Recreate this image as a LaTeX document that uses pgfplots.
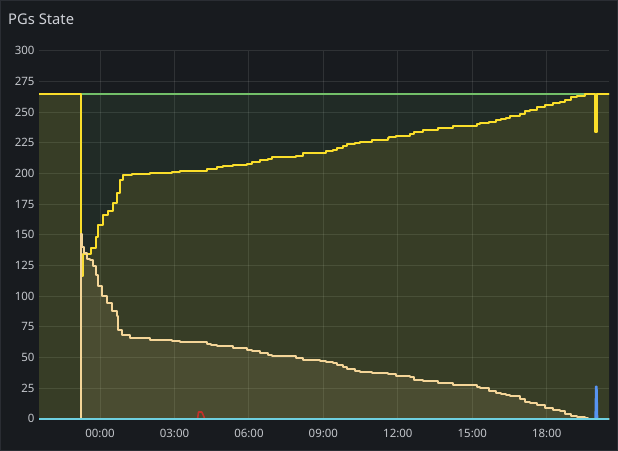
\documentclass[border=0pt]{standalone}
\usepackage{pgfplots}
\pgfplotsset{compat=1.18}
\usepackage{fontspec}
\setmainfont{Noto Sans}

\definecolor{bg}{HTML}{181B1F}
\definecolor{panelline}{HTML}{2A2D33}
\definecolor{titlec}{HTML}{D0D2D8}
\definecolor{tickc}{HTML}{C4C7CC}
\definecolor{gGreen}{HTML}{73BF69}
\definecolor{gYellow}{HTML}{FADE2A}
\definecolor{gCream}{HTML}{F4D598}
\definecolor{gCyan}{HTML}{6ED0E0}
\definecolor{gBlue}{HTML}{5794F2}
\definecolor{gRed}{HTML}{C4302B}

\begin{document}
\begin{tikzpicture}
\fill[bg] (0,0) rectangle (618bp,451bp);
\draw[panelline, line width=1bp] (0.5bp,0.5bp) rectangle (617.5bp,450.5bp);
\node[anchor=base west, text=titlec, font=\fontsize{14.8}{17}\selectfont, inner sep=0pt] at (8bp,426bp) {PGs State};

\begin{axis}[
    at={(39bp,31bp)}, anchor=south west,
    scale only axis,
    width=570bp, height=369.2bp,
    xmin=-2.458, xmax=20.508,
    ymin=-1, ymax=300,
    xtick={0,3,6,9,12,15,18},
    xticklabels={00:00,03:00,06:00,09:00,12:00,15:00,18:00},
    ytick={0,25,...,300},
    grid=major,
    grid style={draw=white, draw opacity=0.1, line width=1bp},
    axis line style={draw=none},
    major tick length=0pt,
    tick label style={text=tickc, font=\fontsize{11.5}{13}\selectfont},
    xticklabel style={yshift=-6bp},
    yticklabel style={xshift=-1bp},
    /pgf/number format/assume math mode=true,
    line join=round,
]
% total (green)
\addplot[gGreen, line width=2bp, fill=gGreen, fill opacity=0.1] coordinates {
    (-3,265) (21,265)
} \closedcycle;

% active+clean (yellow)
\addplot[const plot, gYellow, line width=2bp, fill=gYellow, fill opacity=0.1] coordinates {
    (-3,265) (-0.766,116) (-0.673,134) (-0.363,139) (-0.173,148.6) (-0.068,158)
    (0.133,166) (0.334,169) (0.536,176) (0.673,184) (0.806,195) (0.939,198.4)
    (1.277,199.5) (2.015,200.3) (2.889,201) (3.223,202) (4.299,203.3) (4.472,204)
    (4.714,205) (4.956,205.7) (5.359,207) (5.923,208) (6.124,209) (6.446,211)
    (6.769,212) (6.930,213.3) (7.897,214.4) (8.179,216.6) (8.864,217) (9.106,218)
    (9.388,219) (9.549,220.6) (9.790,222.5) (9.952,224) (10.274,225) (10.475,226)
    (10.959,227) (11.604,228.5) (11.645,229.6) (11.926,230.7) (12.490,232)
    (12.651,233.7) (13.014,235.3) (13.618,237) (14.222,238.3) (15.189,240)
    (15.310,241) (15.673,242) (15.955,243.7) (16.156,244.5) (16.358,245.6)
    (16.519,247) (16.922,248.6) (17.123,250.8) (17.325,252) (17.607,253.8)
    (17.929,256) (18.251,257.3) (18.533,258.4) (18.735,260) (18.977,262)
    (19.218,263) (19.541,264.4) (19.662,265) (19.944,234) (20.024,265) (21,265)
} \closedcycle;

% degraded / remapped (cream)
\addplot[const plot, gCream, line width=2bp, fill=gCream, fill opacity=0.1] coordinates {
    (-3,0) (-0.766,151) (-0.713,140) (-0.633,135) (-0.536,130.4) (-0.403,129.6)
    (-0.270,124.7) (-0.173,117.4) (-0.068,107.9) (0.068,99.7) (0.270,94.3)
    (0.471,87.5) (0.673,83.4) (0.737,72.6) (0.874,68.5) (1.209,65.8) (2.015,64.4)
    (2.889,63.6) (3.223,62.2) (4.299,61) (4.472,60.3) (4.714,59.5) (5.359,57.3)
    (5.923,56.2) (6.124,55.4) (6.446,53.5) (6.769,52.4) (6.930,51.4) (7.897,49.7)
    (8.179,47.8) (8.864,47.5) (9.106,46.5) (9.388,45.4) (9.549,43.5) (9.790,42.1)
    (9.952,40.2) (10.274,39.1) (10.475,38.3) (10.959,37.7) (11.604,36.1)
    (11.926,35) (12.490,33.7) (12.651,32) (13.014,30.4) (13.618,28.8)
    (14.222,27.2) (15.189,26) (15.310,24.8) (15.673,22.3) (15.955,20.9)
    (16.156,20.4) (16.358,19.6) (16.519,18.2) (16.922,16) (17.123,13.9)
    (17.325,12.7) (17.607,11.4) (17.929,8.4) (18.251,7.3) (18.533,6)
    (18.735,3.8) (18.977,2.4) (19.218,1.1) (19.541,0.4) (19.662,0) (21,0)
} \closedcycle;

% scrubbing (red)
\addplot[gRed, line width=1.6bp] coordinates {
    (3.93,0) (3.97,5.5) (4.10,5.5) (4.16,3) (4.22,0)
};

% peering (blue)
\addplot[gBlue, line width=1.6bp, fill=gBlue] coordinates {
    (19.95,0) (19.975,26.3) (20.02,26.3) (20.045,0)
};

% zero line (cyan)
\addplot[gCyan, line width=2bp] coordinates {
    (-3,0) (21,0)
};
\end{axis}
\end{tikzpicture}
\end{document}
